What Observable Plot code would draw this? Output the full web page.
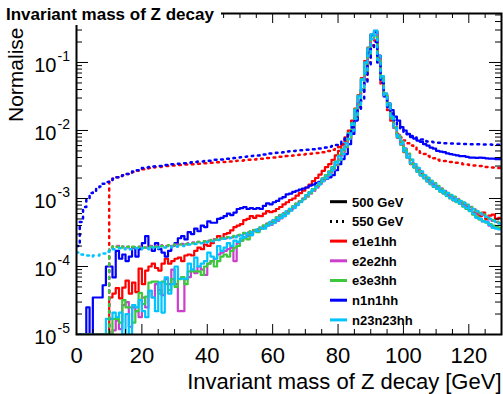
<!DOCTYPE html>
<html>
<head>
<meta charset="utf-8">
<script src="https://cdn.jsdelivr.net/npm/d3@7"></script>
<script src="https://cdn.jsdelivr.net/npm/@observablehq/plot@0.6"></script>
<style>
html, body { margin: 0; padding: 0; background: #fff; }
#wrap { position: relative; width: 503px; height: 394px; font-family: "Liberation Sans", Arial, Helvetica, sans-serif; }
#overlay { position: absolute; left: 0; top: 0; }
</style>
</head>
<body>
<div id="wrap"></div>
<script>
// ---------------- data (histogram contents, in units of 1e-5) ----------------
const binLow = 0, binWidth = 1;
const unit = 1e-5;

const e1e1hh_500 = [
0,0,0,0,0,0,0,0,0,0,
3.5,4,4.8,3.4,4.9,6.2,4,5.8,4.2,9.3,
5.5,8.7,10,11,9.5,8.7,11,13,11,12,
13,13.5,12,14.5,15,14.5,17,19,18,21,
20,22,25,28,26,30,31,34,38,40,
42,48,50,55,52,56,55,60,65,63,
65,70,75,82,88,95,100,110,120,130,
145,160,180,200,225,255,290,320,370,430,
500,620,790,1000,1400,2100,3300,5900,10500,16600,
26000,28500,12000,6000,3400,2400,1500,1100,780,620,
480,400,320,290,260,230,200,190,170,160,
140,135,120,112,105,100,92,85,80,75,
68,62,60,55,62,50,56,58,50,52];

const e2e2hh_500 = [
0,0,0,0,0,0,0,0,0,0,
0,1.15,1.6,1.2,2.7,3,1.3,2.5,2.2,1.8,
3.5,2.5,4.4,3.5,5.5,4.5,3.8,6.5,5.5,9,
5.5,2.2,2.2,6.5,7,9,8,10,9,7.5,
11,12,13,15,16,17,18,19,12,22,
24,27,28,29,33,34,36,37,40,41,
44,47,51,55,61,67,73,81,89,99,
111,123,136,151,171,196,218,248,285,345,
425,525,655,910,1260,2020,3220,5650,10000,16100,
26000,29200,12450,6250,3480,2480,1590,1090,795,625,
495,398,328,288,248,219,199,179,163,149,
139,127,119,109,101,94,89,84,77,71,
66,59,53,50,46,46,40,38,37,36];

const e3e3hh_500 = [
0,0,0,0,0,0,0,0,0,0,
0,1.7,1.7,1.5,3.2,2.5,2.5,1.5,2.2,4.1,
2.8,3.6,5.8,6,6,4,6,5.5,4.5,6.5,
5,6.5,7,5.5,8.5,8.5,8.5,8.5,7.5,10,
11,12,10,12,14,15,14,17,19,20,
24,26,25,30,34,32,36,38,42,43,
46,49,53,56,62,68,74,82,90,100,
112,124,138,152,172,198,220,250,290,350,
430,530,660,920,1280,2050,3250,5700,10000,16200,
26000,29000,12400,6200,3450,2450,1580,1080,790,620,
490,395,325,285,245,218,198,178,162,148,
138,126,118,108,100,94,88,83,76,70,
65,58,54,49,47,44,42,40,38,37];

const n1n1hh_500 = [
0,0,0,2.5,0,3.5,3.5,3.5,5.3,10,
10,6.9,17,13,15,12,14,19,14,18,
22,28,20,17,22,18,16,14,17,20,
22,26,28,25,32,30,36,33,40,38,
46,44,44,50,52,55,60,57,62,70,
72,75,70,72,70,72,70,78,85,82,
88,92,100,105,115,118,125,130,135,140,
145,155,160,168,175,185,195,205,220,260,
320,380,450,630,890,1400,2500,4000,7000,14000,
25000,28000,12600,5600,3200,2500,2000,1600,1400,1120,
1000,890,800,760,710,680,630,600,560,540,
500,490,480,460,450,440,430,420,420,410,
400,400,395,400,395,390,385,385,380,380];

const n23n23hh_500 = [
0,0,0,0,0,0,0,0,0,1.7,
1.7,2.1,1.8,2.1,0,2.0,0,2.7,2.5,3.2,
2.2,1.8,4.4,3.5,2.2,5.8,2.1,6.9,4,5.5,
10,6.6,6.6,6.6,11,9,13.5,10,11,12,
16,14,13,20,17,19,22,20,24,23,
26,27,30,29,34,33,37,36,40,42,
44,48,52,55,60,66,72,80,88,98,
110,122,135,150,170,195,215,245,280,340,
420,520,650,900,1250,2000,3200,5600,10000,16000,
26000,29500,12500,6300,3500,2500,1600,1100,800,630,
500,400,330,290,250,220,200,180,165,150,
140,128,120,110,102,95,90,85,78,72,
66,60,52,50,46,45,41,37,36,35];

const e1e1hh_550 = [
0,0,0,0,0,0,0,0,0,0,
180,195,205,215,220,230,240,245,255,265,
270,275,280,285,290,290,295,300,300,305,
305,310,310,315,315,320,320,325,325,330,
330,335,335,340,340,345,350,350,355,360,
360,365,370,370,375,380,385,390,395,400,
400,405,410,415,420,425,430,435,440,445,
450,455,460,465,470,480,490,500,520,540,
570,630,710,850,1120,1500,2200,3500,5600,10000,
17800,21000,10000,4500,3200,2000,1400,1120,890,790,
710,650,600,560,500,470,450,420,400,390,
370,360,355,350,345,340,335,330,320,315,
310,305,300,300,295,290,290,285,280,280];

const e2e2hh_550 = [
0,0,0,0,0,0,0,0,0,0,
18.5,19.5,20,19,19.5,19,19.5,19,19,19.5,
19.5,19,20,19.5,20,19.5,20.5,20,20.5,20,
21,20.5,21.5,21,22,22.5,22,23,22.5,23.5,
24,24,25,25,26,26,27,27,28,28.5,
29.5,30.5,31.5,33,34,35.5,37.5,39.5,42.5,45.5,
48.5,52.5,56.5,60.5,65.5,70.5,76.5,83.5,90.5,98.5,
107,118,130,145,161,181,202,227,261,311,
371,452,572,752,1005,1505,2410,4020,7020,12650,
22050,25050,11050,5520,3210,2205,1505,1102,852,682,
552,452,371,321,281,251,221,201,181,166,
151,140,130,120,112,105,98,92,86,80,
75,70,65,60,57,54,50,47,45,43];

const e3e3hh_550 = [
0,0,0,0,0,0,0,0,0,0,
19,20,19.5,20,19,19.5,19,19.5,19,19.5,
19,19.5,19.5,20,19.5,20,20,20,20.5,20.5,
21,21,21.5,21.5,22,22,22.5,23,23,23.5,
24,24.5,25,25.5,26,26.5,27,27.5,28,29,
30,31,32,33,34.5,36,38,40,43,46,
49,53,57,61,66,71,77,84,91,99,
108,119,131,146,162,182,203,228,262,312,
372,455,575,755,1010,1510,2420,4030,7050,12700,
22100,25100,11100,5550,3220,2210,1510,1105,855,685,
555,455,372,322,282,252,222,202,182,167,
152,141,131,121,113,106,99,93,87,81,
76,71,66,61,58,55,51,48,46,44];

const n1n1hh_550 = [
20,45,75,100,120,130,140,150,165,175,
185,195,205,215,220,230,240,250,260,270,
280,285,290,295,300,300,305,310,315,320,
320,325,330,330,335,340,345,350,350,355,
360,365,370,370,375,380,385,390,395,400,
405,410,415,420,425,430,435,445,450,460,
465,470,475,480,490,495,500,505,510,515,
520,525,530,535,545,550,560,575,590,610,
630,680,760,890,1120,1400,2000,2800,5000,8900,
15800,20000,10000,5000,3200,2240,1780,1410,1200,1050,
930,880,830,790,760,740,710,690,680,670,
660,660,650,650,645,645,640,640,635,635,
630,630,625,625,620,620,620,615,615,615];

const n23n23hh_550 = [
16,15,14.5,14.5,14,14.5,14.5,15,15.5,16.5,
17,18,18,18.5,18,18.5,18,18.5,18.5,18,
18.5,18.5,18,19,18.5,19,19,19,19,19.5,
19.5,20,20,20.5,21,21,21.5,22,22,22.5,
23,23.5,24,24.5,25,25.5,26,26.5,27,27.5,
28.5,29.5,30.5,32,33.5,35,37,39,42,45,
48,52,56,60,65,70,76,83,90,98,
107,118,130,145,160,180,200,225,260,310,
370,450,570,750,1000,1500,2400,4000,7000,12600,
22000,25000,11000,5500,3200,2200,1500,1100,850,680,
550,450,370,320,280,250,220,200,180,165,
150,140,130,120,112,105,98,92,86,80,
75,70,65,60,57,54,50,47,45,43];

const xTickLabels = [0, 20, 40, 60, 80, 100, 120];
const yTickExponents = [-5, -4, -3, -2, -1];
const legendLabels = ["500 GeV", "550 GeV", "e1e1hh", "e2e2hh", "e3e3hh", "n1n1hh", "n23n23hh"];
const titleText = "Invariant mass of Z decay";
const xTitle = "Invariant mass of Z decay [GeV]";
const yTitle = "Normalise";

// ---------------- styles ----------------
const colors = {e1e1hh: "#ff0000", e2e2hh: "#cc3fcc", e3e3hh: "#3cc83c", n1n1hh: "#0000ff", n23n23hh: "#00c4ff"};
const legendColors = ["#000000", "#000000", colors.e1e1hh, colors.e2e2hh, colors.e3e3hh, colors.n1n1hh, colors.n23n23hh];
const legendDash = [null, "2,4", null, null, null, null, null];
const dotted = "1.8,5";
const font = "'Liberation Sans', Arial, Helvetica, sans-serif";

const W = 503, H = 394, mL = 76, mR = 2, mT = 13, mB = 60;
const FW = W - mL - mR, FH = H - mT - mB;
const yMin = 1e-5, yMax = 0.525;

const histos = [
  {v: e1e1hh_500, c: colors.e1e1hh, d: null},
  {v: e2e2hh_500, c: colors.e2e2hh, d: null},
  {v: e3e3hh_500, c: colors.e3e3hh, d: null},
  {v: n1n1hh_500, c: colors.n1n1hh, d: null},
  {v: n23n23hh_500, c: colors.n23n23hh, d: null},
  {v: e1e1hh_550, c: colors.e1e1hh, d: dotted},
  {v: e2e2hh_550, c: colors.e2e2hh, d: dotted},
  {v: e3e3hh_550, c: colors.e3e3hh, d: dotted},
  {v: n1n1hh_550, c: colors.n1n1hh, d: dotted},
  {v: n23n23hh_550, c: colors.n23n23hh, d: dotted}
];

function pts(values) {
  const p = values.map((v, i) => ({m: binLow + i * binWidth, y: Math.max(v * unit, yMin)}));
  p.push({m: binLow + values.length * binWidth, y: p[p.length - 1].y});
  return p;
}

const yMajor = yTickExponents.map(e => Math.pow(10, e));
const yMinor = [];
for (const e of yTickExponents) for (let k = 2; k <= 9; k++) { const v = k * Math.pow(10, e); if (v <= yMax) yMinor.push(v); }
const xMinor = d3.range(0, 131, 5).filter(d => !xTickLabels.includes(d));

const marks = [];
for (const h of histos) {
  marks.push(Plot.line(pts(h.v), {x: "m", y: "y", curve: "step-after", stroke: h.c,
    strokeWidth: h.d ? 2.5 : 2.2, strokeDasharray: h.d, clip: true}));
}
// ticks (inward, on all four sides)
marks.push(Plot.tickY(yMajor, {y: d => d, insetRight: FW - 12, stroke: "black"}));
marks.push(Plot.tickY(yMinor, {y: d => d, insetRight: FW - 6, stroke: "black"}));
marks.push(Plot.tickY(yMajor, {y: d => d, insetLeft: FW - 12, stroke: "black"}));
marks.push(Plot.tickY(yMinor, {y: d => d, insetLeft: FW - 6, stroke: "black"}));
marks.push(Plot.tickX(xTickLabels, {x: d => d, insetTop: FH - 10, stroke: "black"}));
marks.push(Plot.tickX(xMinor, {x: d => d, insetTop: FH - 5, stroke: "black"}));
marks.push(Plot.tickX(xTickLabels, {x: d => d, insetBottom: FH - 10, stroke: "black"}));
marks.push(Plot.tickX(xMinor, {x: d => d, insetBottom: FH - 5, stroke: "black"}));
marks.push(Plot.frame({stroke: "black", strokeWidth: 2}));
// tick labels
marks.push(Plot.text(xTickLabels, {x: d => d, frameAnchor: "bottom", dy: 21, text: d => String(d),
  fontSize: 22, fill: "black", lineAnchor: "middle"}));
marks.push(Plot.text(yMajor, {y: d => d, frameAnchor: "left", dx: -20, dy: 3, textAnchor: "end",
  text: () => "10", fontSize: 20, fill: "black", lineAnchor: "middle"}));
marks.push(Plot.text(yTickExponents, {y: e => Math.pow(10, e), frameAnchor: "left", dx: -19, dy: -6, textAnchor: "start",
  text: e => "-" + Math.abs(e), fontSize: 14, fill: "black", lineAnchor: "middle"}));
// axis titles
marks.push(Plot.text([xTitle], {frameAnchor: "bottom-right", dy: 47, textAnchor: "end", text: d => d,
  fontSize: 22, fill: "black", lineAnchor: "middle"}));
marks.push(Plot.text([yTitle], {frameAnchor: "top-left", dx: -60, dy: 14, rotate: -90, textAnchor: "end", text: d => d,
  fontSize: 21, fill: "black", lineAnchor: "middle"}));

const chart = Plot.plot({
  width: W, height: H,
  marginLeft: mL, marginRight: mR, marginTop: mT, marginBottom: mB,
  style: {fontFamily: font, background: "white", overflow: "visible"},
  x: {domain: [0, 130], axis: null},
  y: {type: "log", domain: [yMin, yMax], axis: null},
  marks
});
const wrap = document.getElementById("wrap");
wrap.appendChild(chart);

// title box + legend overlay
const ns = "http://www.w3.org/2000/svg";
const ov = document.createElementNS(ns, "svg");
ov.setAttribute("id", "overlay");
ov.setAttribute("width", W); ov.setAttribute("height", H);
ov.style.fontFamily = font;
function el(tag, attrs, txt) {
  const e = document.createElementNS(ns, tag);
  for (const k in attrs) e.setAttribute(k, attrs[k]);
  if (txt != null) e.textContent = txt;
  ov.appendChild(e); return e;
}
el("rect", {x: 0, y: 0, width: 221, height: 25, fill: "white"});
el("text", {x: 6, y: 20, "font-size": 17, "font-weight": "bold", fill: "black"}, titleText);
legendLabels.forEach((lab, i) => {
  const cy = 201.7 + i * 19.7;
  const ln = el("line", {x1: 330, x2: 347, y1: cy, y2: cy, stroke: legendColors[i], "stroke-width": 3});
  if (legendDash[i]) ln.setAttribute("stroke-dasharray", legendDash[i]);
  el("text", {x: 352, y: cy + 4.8, "font-size": 13, "font-weight": "bold", fill: "black"}, lab);
});
wrap.appendChild(ov);
</script>
</body>
</html>
